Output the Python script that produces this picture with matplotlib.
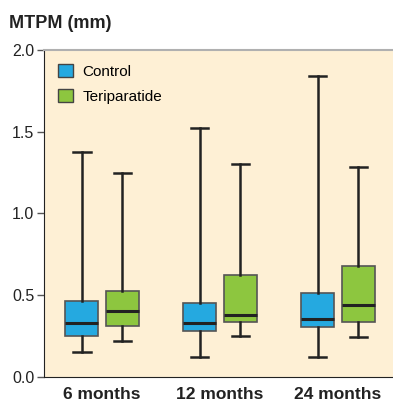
import matplotlib.pyplot as plt
from matplotlib.patches import Patch

plt.rcParams['font.family'] = ['Liberation Sans', 'DejaVu Sans']

groups = ['6 months', '12 months', '24 months']
# whisker low, Q1, median, Q3, whisker high
control_low = [0.153, 0.122, 0.122]
control_q1 = [0.25, 0.281, 0.306]
control_med = [0.33, 0.33, 0.355]
control_q3 = [0.465, 0.453, 0.514]
control_high = [1.376, 1.523, 1.84]

teri_low = [0.22, 0.25, 0.245]
teri_q1 = [0.312, 0.336, 0.336]
teri_med = [0.404, 0.379, 0.44]
teri_q3 = [0.526, 0.624, 0.679]
teri_high = [1.248, 1.30, 1.284]

blue = '#25a9e0'
green = '#8dc63f'
bg = '#fef0d5'


def stats(low, q1, med, q3, high):
    return [dict(whislo=a, q1=b, med=c, q3=d, whishi=e, fliers=[])
            for a, b, c, d, e in zip(low, q1, med, q3, high)]


fig = plt.figure(figsize=(3.93, 4.03), dpi=100)
ax = fig.add_axes([0.112, 0.0645, 0.888, 0.8115])
ax.set_facecolor(bg)

pos = [1, 2, 3]
off = 0.173
common = dict(widths=0.28, patch_artist=True, showfliers=False,
              medianprops=dict(color='#222222', linewidth=2.2),
              whiskerprops=dict(color='#222222', linewidth=1.8),
              capprops=dict(color='#222222', linewidth=1.8),
              capwidths=0.15)
b1 = ax.bxp(stats(control_low, control_q1, control_med, control_q3, control_high),
            positions=[p - off for p in pos],
            boxprops=dict(facecolor=blue, edgecolor='#555555', linewidth=1.2), **common)
b2 = ax.bxp(stats(teri_low, teri_q1, teri_med, teri_q3, teri_high),
            positions=[p + off for p in pos],
            boxprops=dict(facecolor=green, edgecolor='#555555', linewidth=1.2), **common)

ax.set_xlim(0.508, 3.466)
ax.set_ylim(0, 2.0)
ax.set_yticks([0, 0.5, 1.0, 1.5, 2.0])
ax.set_yticklabels(['0.0', '0.5', '1.0', '1.5', '2.0'], fontsize=11.5)
ax.set_xticks(pos)
ax.set_xticklabels(groups, fontsize=12.5, fontweight='bold', color='#222222')
ax.tick_params(axis='x', length=0, pad=7)
ax.tick_params(axis='y', length=5, width=1, color='#555555', pad=2, labelcolor='#222222')

ax.spines['right'].set_visible(False)
ax.spines['top'].set_color('#b0b0b0')
ax.spines['top'].set_linewidth(1.5)
ax.spines['left'].set_color('#222222')
ax.spines['bottom'].set_color('#222222')

fig.text(0.022, 0.93, 'MTPM (mm)', fontsize=13, fontweight='bold', color='#222222')

handles = [Patch(facecolor=blue, edgecolor='#444444', label='Control'),
           Patch(facecolor=green, edgecolor='#444444', label='Teriparatide')]
ax.legend(handles=handles, loc='upper left', frameon=False, fontsize=11,
          handlelength=1.0, handleheight=1.0, handletextpad=0.6,
          labelspacing=0.65, borderaxespad=0.5)

fig.savefig('out.png', dpi=100)
